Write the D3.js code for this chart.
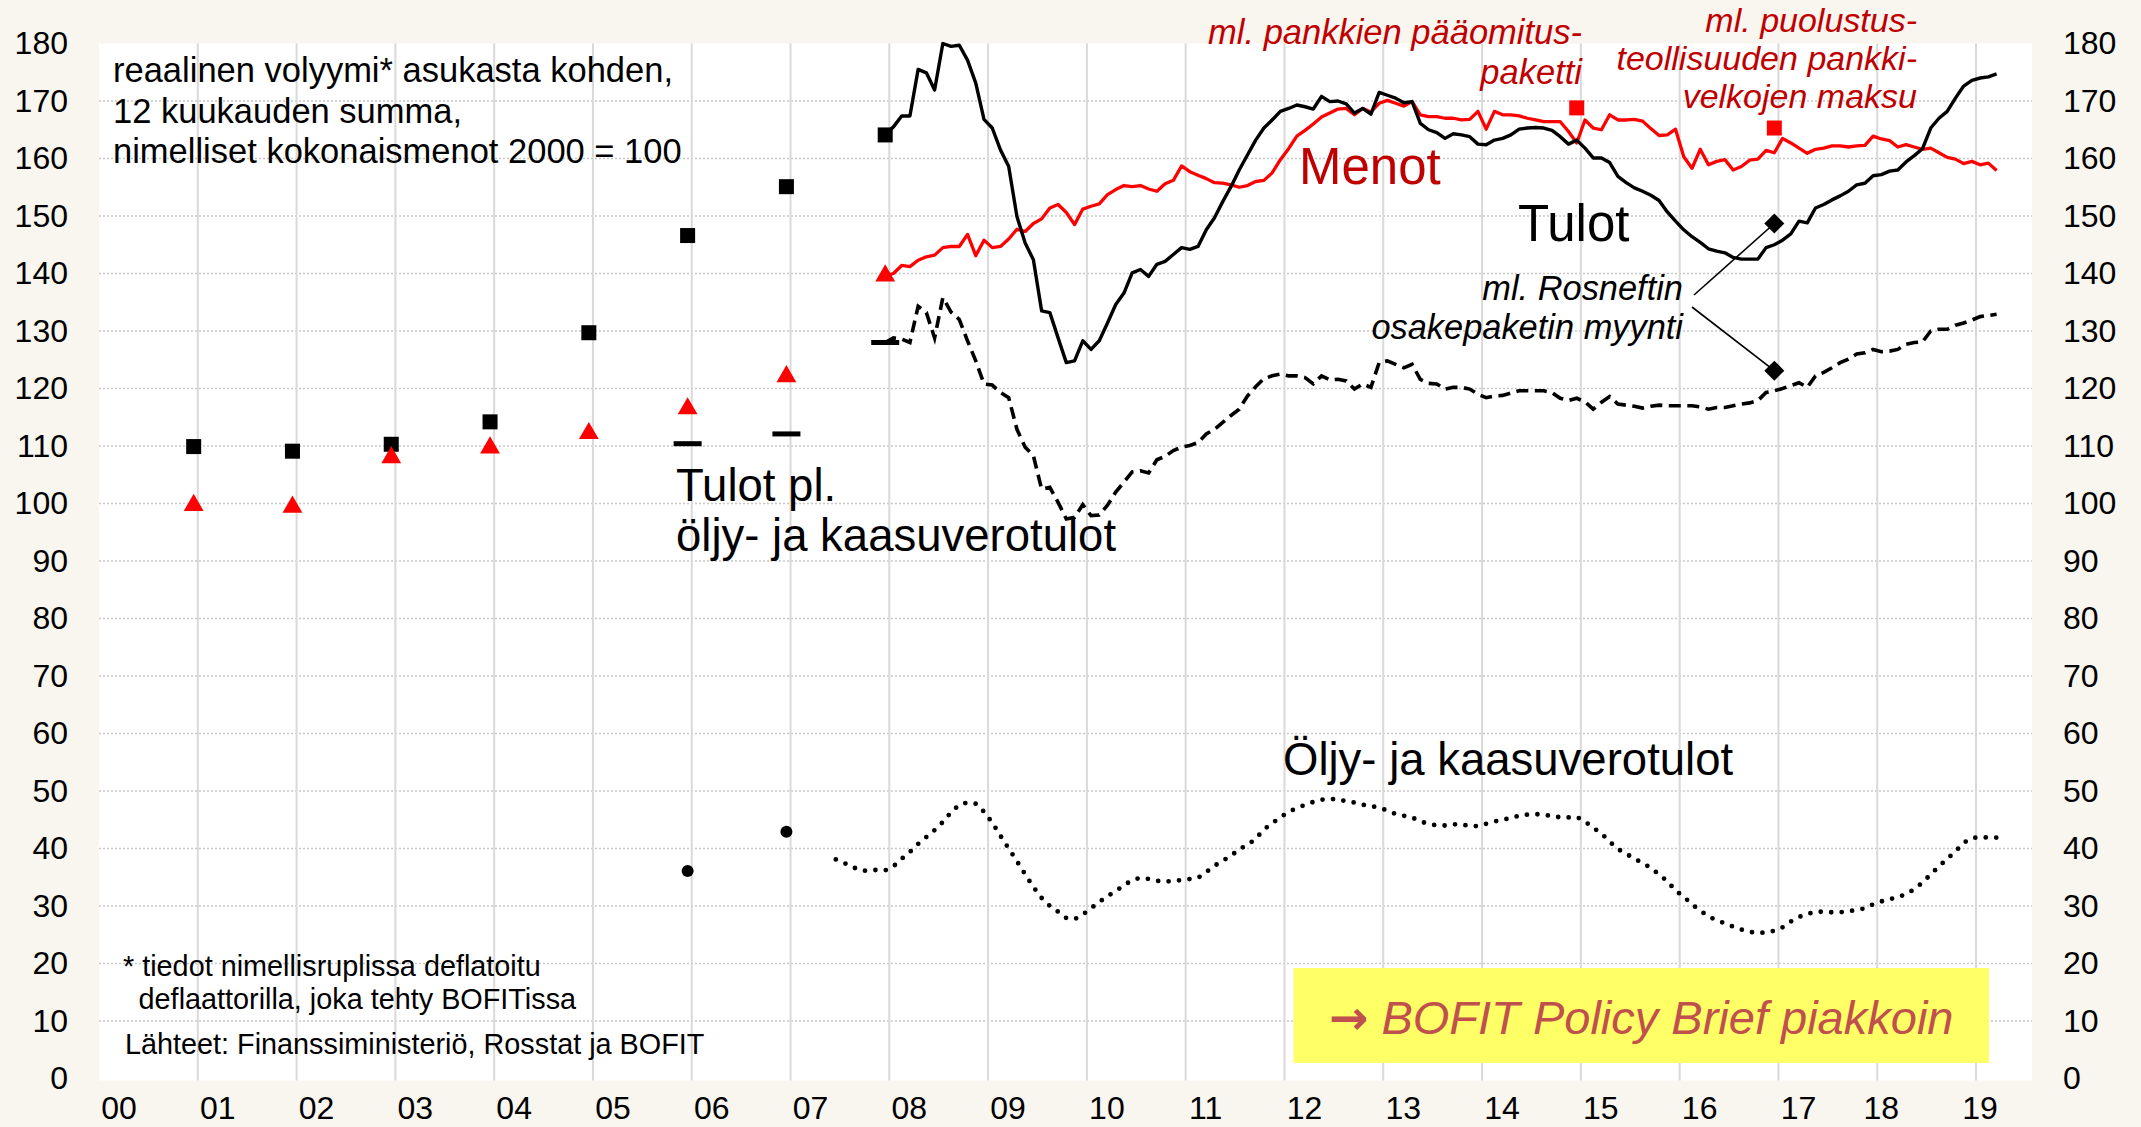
<!DOCTYPE html>
<html>
<head>
<meta charset="utf-8">
<script src="https://cdn.jsdelivr.net/npm/d3@7"></script>
<style>
body { margin: 0; background: #f9f5ef; }
svg { display: block; font-family: "Liberation Sans", Arial, sans-serif; }
</style>
</head>
<body>
<svg id="chart" width="2141" height="1127"></svg>
<script>
// annual values, drawn at December of each year
var annualYears = [2000, 2001, 2002, 2003, 2004, 2005, 2006, 2007];
var tulotAnnual = [109.9, 109.1, 110.3, 114.2, 129.7, 146.6, 155.1, 164.1];
var menotAnnual = [99.7, 99.4, 108.0, 109.7, 112.2, 116.5, 122.1, 139.6];
var exclYears = [2005, 2006, 2007];
var tulotExclAnnual = [110.4, 112.1, 128.0];
var oilYears = [2005, 2006];
var oilAnnual = [36.1, 42.9];

// monthly 12 month sums, first value Dec 2007
var monthlyStart = [2007, 12];
var tulot = [164.2,
    165.5, 167.4, 167.4, 175.5, 174.9, 171.9, 180.0, 179.5, 179.7, 177.1, 173.1, 166.8,
    165.3, 161.5, 158.6, 149.9, 145.3, 142.4, 133.5, 133.2, 128.8, 124.5, 124.8, 128.3,
    126.8, 128.3, 131.4, 134.6, 136.6, 140.1, 140.7, 139.5, 141.6, 142.1, 143.3, 144.5,
    144.2, 144.7, 147.6, 149.7, 152.5, 155.1, 158.0, 160.6, 163.2, 165.3, 166.7, 168.2,
    168.7, 169.3, 169.0, 168.6, 170.8, 169.9, 170.0, 169.5, 167.9, 168.7, 167.7, 171.5,
    171.0, 170.5, 169.7, 169.9, 166.1, 165.0, 164.5, 163.5, 164.3, 164.1, 163.8, 162.5,
    162.4, 163.2, 163.5, 164.1, 165.1, 165.3, 165.4, 165.3, 164.9, 163.8, 162.5, 163.2,
    161.8, 160.1, 160.1, 159.3, 156.9, 155.8, 154.9, 154.3, 153.6, 152.7, 150.7, 149.1,
    147.6, 146.4, 145.4, 144.3, 143.9, 143.6, 142.8, 142.5, 142.5, 142.5, 144.5, 145.0,
    145.8, 146.9, 149.1, 148.8, 151.4, 152.0, 152.8, 153.5, 154.3, 155.4, 155.7, 157.0,
    157.2, 157.8, 158.0, 159.4, 160.5, 161.7, 165.3, 167.0, 168.2, 170.5, 172.6, 173.6,
    174.0, 174.2, 174.7];
var menot = [139.6,
    140.0, 141.4, 141.2, 142.3, 142.9, 143.2, 144.5, 144.7, 144.7, 146.8, 143.1, 145.8,
    144.5, 144.7, 146.0, 147.7, 147.3, 148.7, 149.5, 151.4, 152.0, 150.6, 148.5, 151.2,
    151.7, 152.1, 153.7, 154.6, 155.3, 155.1, 155.3, 154.7, 154.3, 155.6, 156.2, 158.7,
    157.7, 157.1, 156.5, 155.8, 155.7, 155.4, 155.0, 155.3, 156.0, 156.2, 157.5, 159.8,
    161.7, 163.9, 164.9, 166.0, 167.2, 167.9, 168.6, 168.7, 167.6, 168.7, 168.1, 169.6,
    170.1, 169.6, 169.1, 169.9, 167.6, 167.3, 167.3, 167.0, 167.0, 166.7, 166.8, 168.2,
    165.1, 168.2, 167.6, 167.6, 167.4, 167.0, 166.7, 166.4, 166.4, 166.4, 164.7, 162.7,
    166.7, 165.3, 165.0, 167.6, 166.7, 166.7, 166.8, 166.5, 165.2, 164.0, 164.1, 165.1,
    160.3, 158.3, 161.6, 158.9, 159.5, 159.8, 158.0, 158.6, 159.7, 159.9, 161.4, 161.0,
    163.5, 162.7, 161.8, 160.9, 161.6, 161.8, 162.2, 162.2, 162.0, 162.2, 162.3, 163.9,
    163.4, 163.1, 162.0, 162.4, 162.0, 161.6, 161.8, 161.0, 160.2, 159.9, 159.1, 159.5,
    158.9, 159.2, 157.9];
var tulotExcl = [128.0,
    128.8, 128.6, 128.0, 134.3, 133.2, 128.8, 135.8, 133.3, 132.0, 128.3, 124.8, 120.8,
    120.6, 119.3, 118.4, 112.9, 109.8, 108.3, 102.5, 102.8, 100.2, 97.3, 97.6, 99.8,
    97.9, 98.0, 99.7, 102.0, 103.7, 105.5, 105.7, 105.3, 107.6, 108.2, 109.2, 109.8,
    110.1, 110.6, 112.1, 112.9, 114.1, 115.3, 116.4, 118.7, 120.3, 121.7, 122.2, 122.5,
    122.2, 122.2, 121.9, 120.8, 122.2, 121.5, 121.6, 121.3, 119.9, 120.8, 120.2, 124.5,
    124.8, 124.2, 123.6, 124.2, 121.6, 120.9, 120.8, 119.9, 120.2, 120.2, 119.9, 119.0,
    118.4, 118.7, 118.8, 119.2, 119.6, 119.6, 119.6, 119.6, 119.3, 118.3, 117.9, 118.3,
    117.7, 116.4, 117.6, 118.6, 117.3, 117.1, 116.9, 116.6, 116.9, 117.1, 117.0, 117.0,
    117.0, 117.0, 116.8, 116.4, 116.7, 116.7, 117.0, 117.3, 117.5, 117.9, 119.3, 119.6,
    120.0, 120.5, 121.0, 120.2, 122.2, 122.8, 123.6, 124.5, 125.1, 126.0, 126.2, 126.8,
    126.4, 126.5, 126.8, 127.7, 128.0, 128.1, 130.0, 130.3, 130.3, 131.0, 131.4, 131.9,
    132.5, 132.7, 132.9];

// oil and gas tax revenue, first value Jun 2007
var oilStart = [2007, 6];
var oil = [38.1, 37.5, 36.8, 36.2, 36.1, 36.3, 36.2,
    36.9, 38.2, 39.4, 40.8, 42.0, 43.2, 44.6, 46.3, 47.6, 48.0, 47.8, 46.4,
    44.5, 42.2, 40.0, 37.8, 35.5, 33.3, 31.4, 30.0, 29.0, 27.9, 27.7, 28.5,
    29.6, 30.7, 31.7, 32.6, 33.6, 34.5, 34.9, 34.7, 34.4, 34.2, 34.4, 34.5,
    34.7, 34.9, 35.9, 37.0, 37.9, 38.7, 39.9, 40.6, 41.7, 43.3, 44.4, 45.4,
    46.4, 47.0, 47.6, 48.1, 48.5, 48.6, 48.6, 48.2, 48.0, 47.6, 47.4, 47.1,
    46.6, 46.0, 45.7, 45.4, 44.7, 44.3, 44.0, 44.0, 44.2, 44.2, 43.9, 43.9,
    44.3, 44.7, 45.0, 45.3, 45.7, 45.9, 46.0, 45.8, 45.7, 45.4, 45.4, 45.5,
    44.7, 43.6, 42.6, 41.2, 39.9, 39.1, 38.2, 37.5, 36.6, 35.5, 34.3, 32.7,
    31.6, 30.3, 29.2, 28.2, 27.5, 27.0, 26.4, 25.9, 25.5, 25.3, 25.4, 25.7,
    26.3, 27.3, 28.1, 28.6, 29.0, 29.0, 28.9, 28.9, 29.1, 29.3, 29.6, 30.3,
    30.8, 31.2, 31.5, 32.1, 32.9, 34.1, 35.5, 36.9, 38.2, 39.5, 41.0, 41.8,
    42.0, 41.9, 41.9];

// one-off items: [year, month, value]
var menotOneOff = [[2014, 12, 168.8], [2016, 12, 165.3]];
var rosneftOneOff = [[2016, 12, 148.7], [2016, 12, 123.1]];

var yTicks = d3.range(0, 181, 10);
var yearTicks = d3.range(2000, 2020);

var W = 2141, H = 1127;
var plot = {left: 99, right: 2032, top: 43.5, bottom: 1078.5};

var RED = "#ff0000", DARKRED = "#c00000";

var svg = d3.select("#chart");

// months since Jan 2000
var x = d3.scaleLinear()
    .domain([0, 234.8])
    .range([plot.left, plot.right]);

var y = d3.scaleLinear()
    .domain([0, 180])
    .range([plot.bottom, plot.top]);

function monthIndex(year, month) {
    return (year - 2000) * 12 + month - 1;
}

function toPoints(start, values) {
    var m0 = monthIndex(start[0], start[1]);
    return values.map(function(v, i) { return {m: m0 + i + 0.5, v: v}; });
}

function decPoints(years, values) {
    return years.map(function(yr, i) { return {m: monthIndex(yr, 12) + 0.5, v: values[i]}; });
}

svg.append("rect")
    .attr("width", W).attr("height", H)
    .attr("fill", "#f9f5ef");

svg.append("rect")
    .attr("x", plot.left).attr("y", plot.top)
    .attr("width", plot.right - plot.left)
    .attr("height", plot.bottom - plot.top + 2)
    .attr("fill", "#ffffff");

svg.append("clipPath").attr("id", "plotclip")
    .append("rect")
    .attr("x", plot.left).attr("y", plot.top - 2)
    .attr("width", plot.right - plot.left)
    .attr("height", plot.bottom - plot.top + 4);

// gridlines
svg.append("g")
    .selectAll("line")
    .data(yTicks.filter(function(d) { return d > 0 && d < 180; }))
    .join("line")
    .attr("x1", plot.left).attr("x2", plot.right)
    .attr("y1", function(d) { return y(d); })
    .attr("y2", function(d) { return y(d); })
    .attr("stroke", "#c8c8c8")
    .attr("stroke-width", 1.5)
    .attr("stroke-dasharray", "2,2");

svg.append("g")
    .selectAll("line")
    .data(yearTicks.slice(1))
    .join("line")
    .attr("x1", function(d) { return x(monthIndex(d, 1)); })
    .attr("x2", function(d) { return x(monthIndex(d, 1)); })
    .attr("y1", plot.top)
    .attr("y2", plot.bottom + 2)
    .attr("stroke", "#d9d9d9")
    .attr("stroke-width", 2);

// y axes on both sides
var leftAxis = d3.axisLeft(y).tickValues(yTicks).tickSize(0).tickPadding(31);
var rightAxis = d3.axisRight(y).tickValues(yTicks).tickSize(0).tickPadding(31);

[svg.append("g").attr("transform", "translate(" + plot.left + ",0)").call(leftAxis),
 svg.append("g").attr("transform", "translate(" + plot.right + ",0)").call(rightAxis)]
    .forEach(function(ax) {
        ax.select(".domain").remove();
        ax.selectAll("text")
            .attr("font-size", 32)
            .attr("font-family", "Liberation Sans, Arial, sans-serif")
            .attr("fill", "#000");
    });

// year labels
svg.append("g")
    .selectAll("text")
    .data(yearTicks)
    .join("text")
    .attr("x", function(d) { return x(monthIndex(d, 1)) + (d >= 2018 ? 4 : 20); })
    .attr("y", 1119)
    .attr("text-anchor", "middle")
    .attr("font-size", 32)
    .text(function(d) { return d3.format("02")(d % 100); });

var line = d3.line()
    .x(function(d) { return x(d.m); })
    .y(function(d) { return y(d.v); });

var lines = svg.append("g").attr("clip-path", "url(#plotclip)");

lines.append("path")
    .datum(toPoints(oilStart, oil))
    .attr("d", line)
    .attr("fill", "none")
    .attr("stroke", "#000")
    .attr("stroke-width", 4.8)
    .attr("stroke-linecap", "round")
    .attr("stroke-dasharray", "0,10.5");

lines.append("path")
    .datum(toPoints(monthlyStart, tulotExcl))
    .attr("d", line)
    .attr("fill", "none")
    .attr("stroke", "#000")
    .attr("stroke-width", 3.6)
    .attr("stroke-dasharray", "12,6.5");

lines.append("path")
    .datum(toPoints(monthlyStart, menot))
    .attr("d", line)
    .attr("fill", "none")
    .attr("stroke", RED)
    .attr("stroke-width", 3.3)
    .attr("stroke-linejoin", "round");

lines.append("path")
    .datum(toPoints(monthlyStart, tulot))
    .attr("d", line)
    .attr("fill", "none")
    .attr("stroke", "#000")
    .attr("stroke-width", 3.4)
    .attr("stroke-linejoin", "round");

// annual markers
var marks = svg.append("g");

marks.selectAll(".sq")
    .data(decPoints(annualYears, tulotAnnual))
    .join("rect")
    .attr("x", function(d) { return x(d.m) - 7.5; })
    .attr("y", function(d) { return y(d.v) - 7.5; })
    .attr("width", 15).attr("height", 15)
    .attr("fill", "#000");

marks.selectAll(".tri")
    .data(decPoints(annualYears, menotAnnual))
    .join("path")
    .attr("d", d3.symbol(d3.symbolTriangle, 170))
    .attr("transform", function(d) { return "translate(" + x(d.m) + "," + y(d.v) + ")"; })
    .attr("fill", RED);

marks.selectAll(".dash")
    .data(decPoints(exclYears, tulotExclAnnual))
    .join("rect")
    .attr("x", function(d) { return x(d.m) - 14; })
    .attr("y", function(d) { return y(d.v) - 2.5; })
    .attr("width", 28).attr("height", 5)
    .attr("fill", "#000");

marks.selectAll(".dot")
    .data(decPoints(oilYears, oilAnnual))
    .join("circle")
    .attr("cx", function(d) { return x(d.m); })
    .attr("cy", function(d) { return y(d.v); })
    .attr("r", 6)
    .attr("fill", "#000");

marks.selectAll(".oneoff")
    .data(menotOneOff)
    .join("rect")
    .attr("x", function(d) { return x(monthIndex(d[0], d[1]) + 0.5) - 7.5; })
    .attr("y", function(d) { return y(d[2]) - 7.5; })
    .attr("width", 15).attr("height", 15)
    .attr("fill", RED);

// callout lines to Rosneft diamonds
var callStart = [[1694, 295], [1692, 307]];
marks.selectAll(".call")
    .data(rosneftOneOff)
    .join("line")
    .attr("x1", function(d, i) { return callStart[i][0]; })
    .attr("y1", function(d, i) { return callStart[i][1]; })
    .attr("x2", function(d) { return x(monthIndex(d[0], d[1]) + 0.5); })
    .attr("y2", function(d) { return y(d[2]); })
    .attr("stroke", "#000")
    .attr("stroke-width", 1.6);

marks.selectAll(".dia")
    .data(rosneftOneOff)
    .join("path")
    .attr("d", d3.symbol(d3.symbolSquare, 200))
    .attr("transform", function(d) {
        return "translate(" + x(monthIndex(d[0], d[1]) + 0.5) + "," + y(d[2]) + ") rotate(45)";
    })
    .attr("fill", "#000");

// texts
function textBlock(lines, opts) {
    var t = svg.append("text")
        .attr("font-size", opts.size)
        .attr("fill", opts.color || "#000")
        .attr("text-anchor", opts.anchor || "start")
        .attr("font-style", opts.italic ? "italic" : "normal");
    lines.forEach(function(s, i) {
        t.append("tspan")
            .attr("x", opts.x + (opts.indent ? opts.indent[i] : 0))
            .attr("y", opts.y + i * opts.lh)
            .text(s);
    });
    return t;
}

textBlock(["reaalinen volyymi* asukasta kohden,", "12 kuukauden summa,", "nimelliset kokonaismenot 2000 = 100"],
    {x: 113, y: 82, lh: 40.5, size: 34.5});

textBlock(["ml. pankkien pääomitus-", "paketti"],
    {x: 1582, y: 44, lh: 40, size: 34.5, italic: true, anchor: "end", color: DARKRED});

textBlock(["ml. puolustus-", "teollisuuden pankki-", "velkojen maksu"],
    {x: 1917, y: 32, lh: 38, size: 34, italic: true, anchor: "end", color: DARKRED});

textBlock(["ml. Rosneftin", "osakepaketin myynti"],
    {x: 1683, y: 300, lh: 38.5, size: 34.4, italic: true, anchor: "end"});

textBlock(["Menot"], {x: 1299, y: 184, lh: 0, size: 51, color: DARKRED});
textBlock(["Tulot"], {x: 1518, y: 241, lh: 0, size: 51});
textBlock(["Tulot pl.", "öljy- ja kaasuverotulot"], {x: 676, y: 501, lh: 50, size: 45.5});
textBlock(["Öljy- ja kaasuverotulot"], {x: 1283, y: 775, lh: 0, size: 45.5});

textBlock(["* tiedot nimellisruplissa deflatoitu", "deflaattorilla, joka tehty BOFITissa"],
    {x: 123, y: 976, lh: 32.5, size: 28.8, indent: [0, 15.6]});
textBlock(["Lähteet: Finanssiministeriö, Rosstat ja BOFIT"], {x: 125, y: 1053.5, lh: 0, size: 28.8});

// BOFIT box
svg.append("rect")
    .attr("x", 1293.5).attr("y", 968)
    .attr("width", 695.5).attr("height", 95)
    .attr("fill", "#ffff66");
var bofit = textBlock([""], {x: 1329, y: 1034, lh: 0, size: 47, italic: true, color: "#c0504d"});
bofit.select("tspan")
    .attr("font-family", "DejaVu Sans")
    .attr("font-weight", "bold")
    .text("→");
bofit.append("tspan").text(" BOFIT Policy Brief piakkoin");
</script>
</body>
</html>
